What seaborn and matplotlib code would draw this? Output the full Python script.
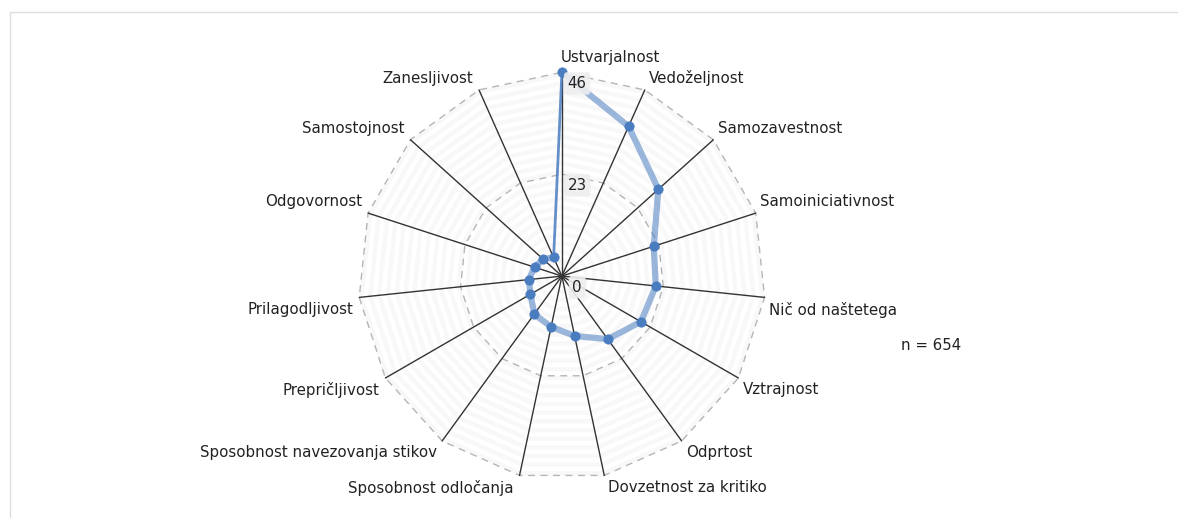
"""Radar chart: share of respondents per trait (n = 654)."""
import matplotlib.pyplot as plt
import numpy as np
import pandas as pd
import seaborn as sns
from matplotlib.patches import Rectangle

CATEGORIES = [
    "Ustvarjalnost", "Vedoželjnost", "Samozavestnost", "Samoiniciativnost",
    "Nič od naštetega", "Vztrajnost", "Odprtost", "Dovzetnost za kritiko",
    "Sposobnost odločanja", "Sposobnost navezovanja stikov", "Prepričljivost",
    "Prilagodljivost", "Odgovornost", "Samostojnost", "Zanesljivost",
]
VALUES = [46, 37, 29.3, 21.8, 21.3, 20.6, 17.6, 13.8, 11.7, 10.6, 8.2, 7.5, 6.5, 5.7, 4.6]
TICKS = [0, 23, 46]
N_LABEL = "n = 654"

BLUE = "#4a7cc0"
RMAX = 46
FS = 10.8

sns.set_theme(style="white")
plt.rcParams["font.family"] = ["DejaVu Sans"]

fig = plt.figure(figsize=(11.78, 5.18), dpi=100)
fig.patches.append(Rectangle((10 / 1178, -0.1), 1.2, 1 - 12 / 518 + 0.1,
                             transform=fig.transFigure, fill=False,
                             edgecolor="#dddddd", linewidth=1))

ax = fig.add_axes([0.304, 0.073, 0.346, 0.788], projection="polar")
ax.set_theta_zero_location("N")
ax.set_theta_direction(-1)
ax.set_ylim(0, RMAX)
ax.grid(False)
ax.spines["polar"].set_visible(False)
ax.set_xticks([])
ax.set_yticks([])
ax.set_facecolor("none")

n = len(CATEGORIES)
theta = np.arange(n) * 2 * np.pi / n
theta_c = np.append(theta, theta[0])

# faint alternating polygon bands
for i, r in enumerate(range(RMAX, 0, -1)):
    ax.fill(theta_c, [r] * (n + 1), color="#f8f8f8" if i % 2 == 0 else "white",
            linewidth=0, zorder=0)

# dashed polygon rings
for r in TICKS[1:]:
    ax.plot(theta_c, [r] * (n + 1), color="#b5b5b5", linestyle=(0, (5, 4)),
            linewidth=1, zorder=1, clip_on=False)

# spokes
for t in theta:
    ax.plot([t, t], [0, RMAX], color="#333333", linewidth=1, zorder=2, clip_on=False)

# data
df = pd.DataFrame({"theta": theta, "value": VALUES})
sns.lineplot(data=df, x="theta", y="value", sort=False, estimator=None, ax=ax,
             color=BLUE, alpha=0.55, linewidth=4.5, zorder=3, legend=False)
ax.plot([theta[-1], theta[0]], [VALUES[-1], VALUES[0]], color=BLUE,
        linewidth=2, alpha=0.85, zorder=3, clip_on=False)
sns.scatterplot(data=df, x="theta", y="value", ax=ax, color=BLUE, s=45,
                edgecolor=BLUE, zorder=4, legend=False, clip_on=False)
ax.set_xlabel("")
ax.set_ylabel("")

# category labels
for t, lab in zip(theta, CATEGORIES):
    s, c = np.sin(t), np.cos(t)
    ha = "left" if s >= -1e-9 else "right"
    va = "bottom" if c > 1e-9 else "top"
    dx = 3 if ha == "left" else -4
    dy = 3 if va == "bottom" else -3
    if abs(s) < 1e-9:
        dx = -1
        dy = 5
    ax.annotate(lab, xy=(t, RMAX), xytext=(dx, dy), textcoords="offset points",
                ha=ha, va=va, fontsize=FS, color="#222222", annotation_clip=False)

# radial tick labels
for r in TICKS:
    ax.annotate(str(r), xy=(0, r), xytext=(11, -8), textcoords="offset points",
                ha="center", va="center", fontsize=FS, color="#222222", zorder=5,
                bbox=dict(boxstyle="round,pad=0.25", facecolor="#eeeeee",
                          edgecolor="none", alpha=0.9))

fig.text(931 / 1178, 1 - 346 / 518, N_LABEL, ha="center", va="center",
         fontsize=FS, color="#222222")

fig.savefig("out.png", dpi=100)
